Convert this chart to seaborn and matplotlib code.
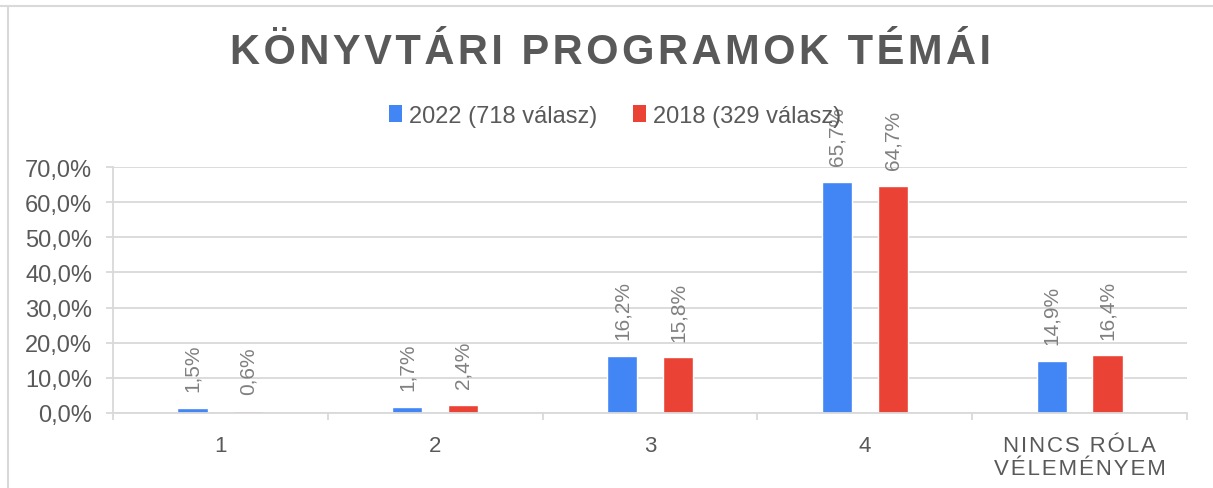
import matplotlib
matplotlib.use("Agg")
import matplotlib.pyplot as plt
import seaborn as sns
import pandas as pd
from matplotlib.patches import Patch
from matplotlib.lines import Line2D
from matplotlib.ticker import FuncFormatter, FixedLocator

categories = ["1", "2", "3", "4", "NINCS RÓLA\nVÉLEMÉNYEM"]
series_names = ["2022 (718 válasz)", "2018 (329 válasz)"]
values_2022 = [1.5, 1.7, 16.2, 65.7, 14.9]
values_2018 = [0.6, 2.4, 15.8, 64.7, 16.4]
colors = ["#4285F4", "#EA4335"]
title = "KÖNYVTÁRI PROGRAMOK TÉMÁI"

sns.set_theme(style="white")
plt.rcParams["font.family"] = ["Liberation Sans", "DejaVu Sans"]

df = pd.DataFrame({
    "cat": categories * 2,
    "series": [series_names[0]] * 5 + [series_names[1]] * 5,
    "val": values_2022 + values_2018,
})

fig = plt.figure(figsize=(12.13, 4.89), dpi=100)
ax = fig.add_axes([113 / 1213, 1 - 414 / 489, (1187 - 113) / 1213, (414 - 168) / 489])

sns.barplot(data=df, x="cat", y="val", hue="series", palette=colors,
            width=0.52, gap=0.46, ax=ax, legend=False, saturation=1)

grid_c = "#D9D9D9"
text_c = "#595959"
ax.set_ylim(0, 70)
ax.set_xlim(-0.5, 4.5)
ax.set_yticks(range(0, 71, 10))
ax.yaxis.set_major_formatter(FuncFormatter(lambda v, p: f"{v:.1f}".replace(".", ",") + "%"))
ax.grid(axis="y", color=grid_c, linewidth=1.3)
ax.set_axisbelow(True)
for s in ["top", "right"]:
    ax.spines[s].set_visible(False)
for s in ["left", "bottom"]:
    ax.spines[s].set_color(grid_c)
    ax.spines[s].set_linewidth(1.3)
ax.tick_params(axis="y", length=5, width=1.3, color=grid_c, pad=10, labelsize=17, labelcolor=text_c, left=True)
ax.set_xlabel("")
ax.set_ylabel("")
hs = "\u200a"
xlabels = ["\n".join(hs.join(list(line)) for line in c.split("\n")) for c in categories]
ax.set_xticks(range(5))
ax.set_xticklabels(xlabels, linespacing=1.1)
ax.tick_params(axis="x", length=0, pad=16, labelsize=16, labelcolor=text_c)
ax.xaxis.set_minor_locator(FixedLocator([i - 0.5 for i in range(6)]))
ax.tick_params(axis="x", which="minor", length=5, width=1.3, color=grid_c, bottom=True)

for cont, vals in zip(ax.containers, [values_2022, values_2018]):
    labs = [f"{v:.1f}".replace(".", ",") + "%" for v in vals]
    ax.bar_label(cont, labels=labs, rotation=90, padding=12, fontsize=15, color="#808080")

fig.text(0.503, 1 - 53 / 489, hs.join(list(title)), ha="center", va="center",
         fontsize=30, fontweight="bold", color=text_c)

handles = [Patch(facecolor=c, edgecolor="none") for c in colors]
fig.legend(handles, series_names, loc="center", bbox_to_anchor=(615 / 1213, 1 - 117 / 489),
           ncol=2, frameon=False, fontsize=17, labelcolor=text_c, handlelength=0.55,
           handleheight=0.7, handletextpad=0.3, columnspacing=1.5)

fig.add_artist(Line2D([0, 1], [1 - 6.5 / 489] * 2, color="#D9D9D9", linewidth=1.5))
fig.add_artist(Line2D([7.5 / 1213] * 2, [0, 1 - 6.5 / 489], color="#D9D9D9", linewidth=1.5))

fig.savefig("out.png", dpi=100)
